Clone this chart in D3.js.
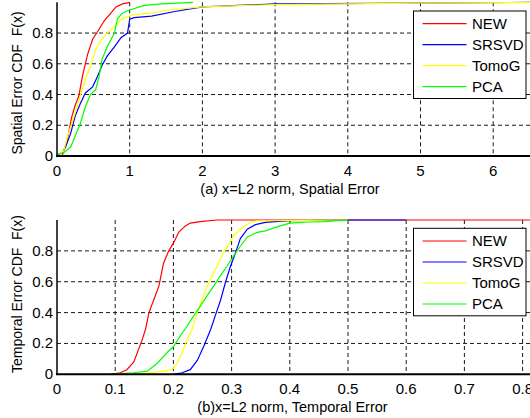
<!DOCTYPE html>
<html>
<head>
<meta charset="utf-8">
<script src="https://cdn.jsdelivr.net/npm/d3@7/dist/d3.min.js"></script>
<style>
body { margin: 0; background: #fff; }
svg { display: block; font-family: "Liberation Sans", Arial, sans-serif; }
.grid line { stroke: #1a1a1a; stroke-width: 1; stroke-dasharray: 4,3; }
.tick-label { font-size: 15px; fill: #000; }
.ylab { white-space: pre; }
</style>
</head>
<body>
<svg id="chart" width="530" height="418"></svg>
<script>
// series names and colours, same for both panels
var seriesNames = ["NEW", "SRSVD", "TomoG", "PCA"];
var seriesColors = ["#ff0000", "#0000ff", "#ffff00", "#00ff00"];

// (a) spatial error CDF, [x, F(x)]
var newSpatial = [[0.07,0],[0.14,0.10],[0.2,0.25],[0.25,0.33],[0.3,0.39],[0.35,0.52],[0.42,0.66],[0.49,0.76],[0.56,0.81],[0.65,0.88],[0.74,0.93],[0.81,0.97],[0.9,0.99],[1.0,1.0]];
var srsvdSpatial = [[0,0.01],[0.07,0.02],[0.12,0.06],[0.19,0.15],[0.25,0.26],[0.32,0.34],[0.39,0.41],[0.49,0.45],[0.56,0.52],[0.62,0.59],[0.69,0.65],[0.79,0.71],[0.88,0.77],[0.97,0.8],[1.0,0.89],[1.06,0.9],[1.3,0.91],[1.62,0.94],[2.0,0.97],[3.0,0.99],[5.0,0.995],[6.6,1.0]];
var tomogSpatial = [[0,0.01],[0.09,0.03],[0.16,0.15],[0.25,0.28],[0.32,0.39],[0.39,0.5],[0.46,0.58],[0.53,0.69],[0.6,0.75],[0.69,0.8],[0.79,0.84],[0.86,0.88],[0.93,0.9],[1.06,0.92],[1.3,0.93],[1.53,0.95],[2.0,0.97],[3.0,0.985],[5.0,0.995],[6.6,0.998]];
var pcaSpatial = [[0,0.01],[0.09,0.02],[0.19,0.06],[0.25,0.13],[0.32,0.21],[0.39,0.32],[0.46,0.4],[0.53,0.43],[0.58,0.52],[0.62,0.63],[0.69,0.71],[0.79,0.8],[0.83,0.89],[0.9,0.93],[1.0,0.95],[1.2,0.98],[1.44,0.99],[1.87,1.0]];

// (b) temporal error CDF
var newTemporal = [[0.092,0],[0.109,0.01],[0.12,0.03],[0.132,0.08],[0.14,0.16],[0.146,0.22],[0.152,0.29],[0.158,0.4],[0.166,0.48],[0.175,0.57],[0.183,0.72],[0.192,0.8],[0.2,0.85],[0.209,0.92],[0.22,0.96],[0.229,0.98],[0.246,0.99],[0.275,1.0],[0.9,1.0]];
var srsvdTemporal = [[0.2,0],[0.215,0.01],[0.229,0.03],[0.241,0.09],[0.252,0.18],[0.264,0.29],[0.272,0.38],[0.281,0.48],[0.289,0.59],[0.298,0.7],[0.307,0.79],[0.315,0.88],[0.327,0.94],[0.341,0.97],[0.358,0.985],[0.375,0.99],[0.4,0.995],[0.5,1.0],[0.6,1.0]];
var tomogTemporal = [[0.132,0],[0.16,0.01],[0.183,0.02],[0.198,0.03],[0.206,0.07],[0.215,0.14],[0.223,0.22],[0.232,0.29],[0.241,0.4],[0.249,0.48],[0.258,0.57],[0.269,0.66],[0.278,0.72],[0.286,0.79],[0.295,0.84],[0.304,0.9],[0.315,0.94],[0.33,0.98],[0.344,0.995],[0.43,0.998],[0.5,1.0]];
var pcaTemporal = [[0.092,0],[0.132,0.01],[0.155,0.02],[0.172,0.07],[0.189,0.14],[0.2,0.18],[0.212,0.25],[0.223,0.31],[0.235,0.38],[0.246,0.44],[0.258,0.51],[0.269,0.57],[0.281,0.64],[0.292,0.7],[0.304,0.77],[0.315,0.83],[0.327,0.89],[0.344,0.92],[0.358,0.93],[0.375,0.952],[0.4,0.98],[0.432,0.987],[0.46,0.99],[0.5,1.0]];

// ticks
var spatialXTicks = [0, 1, 2, 3, 4, 5, 6];
var temporalXTicks = [0, 0.1, 0.2, 0.3, 0.4, 0.5, 0.6, 0.7, 0.8];
var yTicks = [0, 0.2, 0.4, 0.6, 0.8];

var svg = d3.select("#chart");

function drawPanel(p) {
    var x = d3.scaleLinear().domain(p.xDomain).range([57, 57 + p.unit * (p.xDomain[1] - p.xDomain[0])]),
        y = d3.scaleLinear().domain([0, 1]).range([p.bottom, p.top]),
        g = svg.append("g"),
        right = 530;

    // grid
    var grid = g.append("g").attr("class", "grid");
    grid.selectAll(".gx")
        .data(p.xTicks.filter(function(d) { return d > 0; }))
        .enter().append("line")
        .attr("x1", function(d) { return x(d); })
        .attr("x2", function(d) { return x(d); })
        .attr("y1", y(1)).attr("y2", y(0));
    grid.selectAll(".gy")
        .data(yTicks.filter(function(d) { return d > 0; }))
        .enter().append("line")
        .attr("x1", x(0)).attr("x2", right)
        .attr("y1", function(d) { return y(d); })
        .attr("y2", function(d) { return y(d); });

    // curves
    var line = d3.line()
        .x(function(d) { return x(d[0]); })
        .y(function(d) { return y(d[1]); });
    g.selectAll(".curve")
        .data(p.series)
        .enter().append("path")
        .attr("d", line)
        .attr("fill", "none")
        .attr("stroke", function(d, i) { return seriesColors[i]; })
        .attr("stroke-width", 1.2);

    // axes
    g.append("line").attr("x1", x(0)).attr("x2", x(0)).attr("y1", y(1)).attr("y2", y(0))
        .attr("stroke", "#000").attr("stroke-width", 1.5);
    g.append("line").attr("x1", x(0) - 1).attr("x2", right).attr("y1", y(0)).attr("y2", y(0))
        .attr("stroke", "#000").attr("stroke-width", 2);

    // tick labels
    g.selectAll(".xl")
        .data(p.xTicks)
        .enter().append("text")
        .attr("class", "tick-label")
        .attr("x", function(d) { return x(d); })
        .attr("y", y(0) + 20)
        .attr("text-anchor", "middle")
        .text(function(d) { return d; });
    g.selectAll(".yl")
        .data(yTicks)
        .enter().append("text")
        .attr("class", "tick-label")
        .attr("x", 53)
        .attr("y", function(d) { return y(d) + 5; })
        .attr("text-anchor", "end")
        .text(function(d) { return d; });

    // axis titles
    g.append("text")
        .attr("x", p.xLabelX).attr("y", y(0) + 38)
        .attr("text-anchor", "middle")
        .style("font-size", "14.5px")
        .text(p.xLabel);
    g.append("text")
        .attr("class", "ylab")
        .attr("transform", "translate(17," + p.yLabelY + ") rotate(-90)")
        .attr("dy", "0.35em")
        .attr("text-anchor", "middle")
        .style("font-size", "14px")
        .text(p.yLabel);

    // legend
    var lg = g.append("g").attr("transform", "translate(413.5," + p.legendTop + ")");
    lg.append("rect").attr("width", 112.5).attr("height", 87.5)
        .attr("fill", "#fff").attr("stroke", "#000").attr("stroke-width", 1);
    var item = lg.selectAll(".item")
        .data(seriesNames)
        .enter().append("g")
        .attr("transform", function(d, i) { return "translate(0," + (12.7 + i * 21) + ")"; });
    item.append("line").attr("x1", 9).attr("x2", 53).attr("y1", 0).attr("y2", 0)
        .attr("stroke", function(d, i) { return seriesColors[i]; }).attr("stroke-width", 1.2);
    item.append("text").attr("x", 58.5).attr("y", 5.3)
        .style("font-size", "15px")
        .text(function(d) { return d; });
}

drawPanel({
    xDomain: [0, 7], unit: 72.7, top: 2.3, bottom: 156,
    xTicks: spatialXTicks,
    series: [newSpatial, srsvdSpatial, tomogSpatial, pcaSpatial],
    xLabel: "(a) x=L2 norm, Spatial Error", xLabelX: 290,
    yLabel: "Spatial Error CDF  F(x)", yLabelY: 83,
    legendTop: 11
});

drawPanel({
    xDomain: [0, 0.9], unit: 582, top: 220, bottom: 374.3,
    xTicks: temporalXTicks,
    series: [newTemporal, srsvdTemporal, tomogTemporal, pcaTemporal],
    xLabel: "(b)x=L2 norm, Temporal Error", xLabelX: 292.5,
    yLabel: "Temporal Error CDF  F(x)", yLabelY: 294,
    legendTop: 228.3
});
</script>
</body>
</html>
